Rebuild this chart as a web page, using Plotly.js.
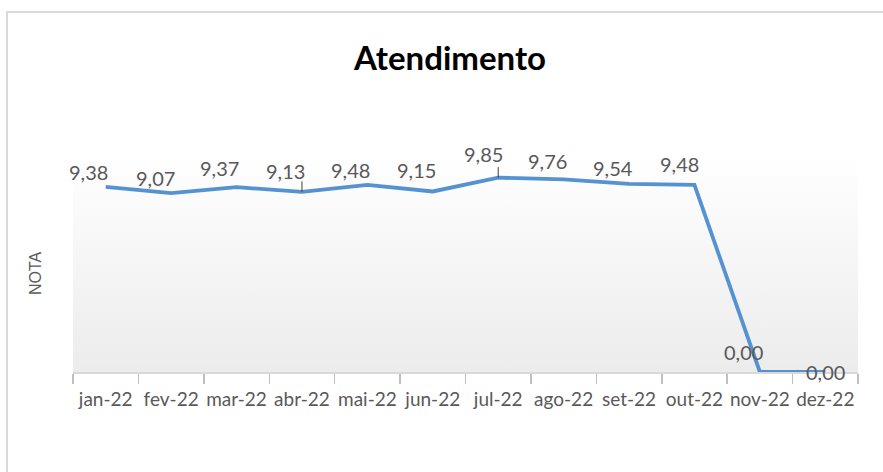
<!DOCTYPE html>
<html>
<head>
<meta charset="utf-8">
<script src="https://cdn.plot.ly/plotly-3.0.1.min.js"></script>
<style>
  html, body { margin: 0; padding: 0; background: #ffffff; overflow: hidden; }
  #chart { width: 883px; height: 472px; position: absolute; left: 0; top: 0; }
  #frame { position: absolute; left: 6px; top: 11px; width: 900px; height: 500px;
           border-left: 2px solid #d9d9d9; border-top: 2px solid #d9d9d9; pointer-events: none; }
</style>
</head>
<body>
<div id="chart"></div>
<div id="frame"></div>
<script>
// ---- data ----
const months = ['jan-22','fev-22','mar-22','abr-22','mai-22','jun-22','jul-22','ago-22','set-22','out-22','nov-22','dez-22'];
const notas  = [9.38, 9.07, 9.37, 9.13, 9.48, 9.15, 9.85, 9.76, 9.54, 9.48, 0.00, 0.00];
const chartTitle = 'Atendimento';
const yTitle = 'NOTA';

// ---- label placement (pixels, relative to point) ----
const labelDX = [-17, -16, -17, -16, -17, -16, -15, -16, -16, -15, -16, 0];
const labelDY = [-15, -15, -19, -21, -15, -21, -24, -18, -16, -21, -20, 0];
const leaderIdx = [3, 6];

const fmt = v => v.toFixed(2).replace('.', ',');
const labelFont = { family: 'Lato, Calibri, sans-serif', size: 20, color: '#595959' };

const annotations = [];
notas.forEach((v, i) => {
  annotations.push({
    x: months[i], y: v, xref: 'x', yref: 'y',
    text: fmt(v), showarrow: false,
    xshift: labelDX[i], yshift: -labelDY[i],
    font: labelFont, xanchor: 'center', yanchor: 'middle'
  });
});
leaderIdx.forEach(i => {
  annotations.push({
    x: months[i], y: notas[i], xref: 'x', yref: 'y',
    text: '', showarrow: true, ax: 0, ay: -12,
    arrowhead: 0, arrowwidth: 1, arrowcolor: '#404040', standoff: 0, startstandoff: 0
  });
});
annotations.push({
  xref: 'paper', yref: 'paper', x: -(73 - 35) / 785, y: (372 - 273) / 219,
  text: yTitle, textangle: -90, showarrow: false,
  font: { family: 'Liberation Sans, Arial, sans-serif', size: 16, color: '#595959' },
  xanchor: 'center', yanchor: 'middle'
});

const gradSvg = "<svg xmlns='http://www.w3.org/2000/svg' width='100' height='100' viewBox='0 0 100 100' preserveAspectRatio='none'>" +
  "<defs><linearGradient id='g' x1='0' y1='0' x2='0' y2='1'>" +
  "<stop offset='0' stop-color='#ffffff'/><stop offset='1' stop-color='#ececec'/>" +
  "</linearGradient></defs><rect width='100' height='100' fill='url(#g)'/></svg>";
const gradUri = 'data:image/svg+xml;charset=utf-8,' + encodeURIComponent(gradSvg);

const trace = {
  type: 'scatter', mode: 'lines',
  x: months, y: notas,
  line: { color: '#5592d2', width: 3.8 },
  hoverinfo: 'skip', cliponaxis: false
};

const layout = {
  width: 883, height: 472,
  margin: { l: 73, r: 25, t: 153, b: 100 },
  paper_bgcolor: '#ffffff',
  plot_bgcolor: 'rgba(0,0,0,0)',
  showlegend: false,
  title: {
    text: '<b>' + chartTitle + '</b>',
    font: { family: 'Lato, Calibri, sans-serif', size: 33, color: '#000000' },
    x: 450 / 883, xref: 'container', xanchor: 'center',
    y: 1 - 58 / 472, yref: 'container', yanchor: 'middle'
  },
  xaxis: {
    type: 'category',
    range: [-0.5, 11.5],
    tickson: 'boundaries',
    tickangle: 0,
    ticks: 'outside', ticklen: 10, tickwidth: 1.5, tickcolor: '#bfbfbf',
    ticklabelstandoff: 10,
    showline: true, linecolor: '#d9d9d9', linewidth: 1.5,
    showgrid: false, zeroline: false,
    tickfont: { family: 'Lato, Calibri, sans-serif', size: 19, color: '#595959' },
    fixedrange: true
  },
  yaxis: {
    range: [0, 11.1],
    showticklabels: false, showgrid: false, zeroline: false, showline: false, ticks: '',
    fixedrange: true
  },
  images: [{
    source: gradUri, xref: 'paper', yref: 'paper',
    x: 0, y: 1, sizex: 1, sizey: 1, xanchor: 'left', yanchor: 'top',
    sizing: 'stretch', layer: 'below'
  }],
  annotations: annotations
};

Plotly.newPlot('chart', [trace], layout, { displayModeBar: false, staticPlot: true });
</script>
</body>
</html>
